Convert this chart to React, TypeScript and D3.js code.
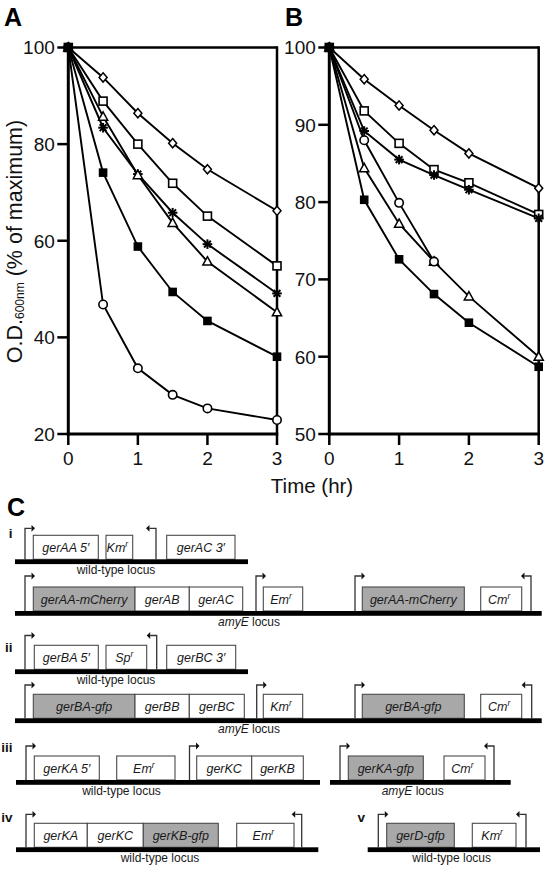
import React from 'react';
import * as d3 from 'd3';

// ---------- Data (panels A and B) ----------
const times = [0, 0.5, 1, 1.5, 2, 3];
const xTicks = [0, 1, 2, 3];
const yTicksA = [20, 40, 60, 80, 100];
const yTicksB = [50, 60, 70, 80, 90, 100];

const aDiamond = [100, 93.8, 86.4, 80.2, 74.8, 66.2];
const aOpenSquare = [100, 88.9, 80.0, 71.9, 65.1, 54.8];
const aStar = [100, 83.4, 73.8, 65.8, 59.3, 49.1];
const aTriangle = [100, 85.7, 73.6, 63.7, 55.7, 45.2];
const aCircle = [100, 46.8, 33.6, 28.1, 25.3, 22.9];
const aFilledSquare = [100, 74.1, 58.8, 49.4, 43.4, 36.0];

const bDiamond = [100, 95.9, 92.5, 89.3, 86.3, 81.8];
const bOpenSquare = [100, 91.8, 87.6, 84.2, 82.5, 78.4];
const bStar = [100, 89.2, 85.5, 83.5, 81.6, 77.9];
const bTriangle = [100, 84.4, 77.2, 72.3, 67.8, 60.0];
const bCircle: (number | null)[] = [100, 88.0, 79.9, 72.3, null, null];
const bFilledSquare = [100, 80.3, 72.6, 68.1, 64.4, 58.7];

type MarkerKind = 'diamond' | 'openSquare' | 'star' | 'triangle' | 'circle' | 'filledSquare';
type Series = { marker: MarkerKind; values: (number | null)[] };

const seriesA: Series[] = [
  { marker: 'diamond', values: aDiamond },
  { marker: 'openSquare', values: aOpenSquare },
  { marker: 'star', values: aStar },
  { marker: 'triangle', values: aTriangle },
  { marker: 'circle', values: aCircle },
  { marker: 'filledSquare', values: aFilledSquare },
];
const seriesB: Series[] = [
  { marker: 'diamond', values: bDiamond },
  { marker: 'openSquare', values: bOpenSquare },
  { marker: 'star', values: bStar },
  { marker: 'triangle', values: bTriangle },
  { marker: 'circle', values: bCircle },
  { marker: 'filledSquare', values: bFilledSquare },
];

// ---------- Data (panel C schematic) ----------
const rowLabels = ['i', 'ii', 'iii', 'iv', 'v'];
type Box = { label: string; sup?: string; x1: number; x2: number; grey?: boolean };
type Track = {
  barTop: number; bar: [number, number]; boxes: Box[];
  fwd: number[]; rev: number[]; arrowTop: number;
  locus: string; locusItalic?: string; locusX: number;
};
const tracks: Track[] = [
  { barTop: 559.3, bar: [15, 248], arrowTop: 528.3, fwd: [25], rev: [156],
    boxes: [
      { label: 'gerAA 5\u2032', x1: 33.3, x2: 98.3 },
      { label: 'Km', sup: 'r', x1: 106, x2: 132.7 },
      { label: 'gerAC 3\u2032', x1: 166.7, x2: 235 },
    ], locus: 'wild-type locus', locusX: 116 },
  { barTop: 611, bar: [15, 541.7], arrowTop: 576, fwd: [25, 256, 355], rev: [531],
    boxes: [
      { label: 'gerAA-mCherry', x1: 33.3, x2: 135, grey: true },
      { label: 'gerAB', x1: 135, x2: 189.3 },
      { label: 'gerAC', x1: 189.3, x2: 242.7 },
      { label: 'Em', sup: 'r', x1: 263.3, x2: 302.7 },
      { label: 'gerAA-mCherry', x1: 362.3, x2: 464.3, grey: true },
      { label: 'Cm', sup: 'r', x1: 480.7, x2: 521.7 },
    ], locus: ' locus', locusItalic: 'amyE', locusX: 249 },
  { barTop: 669.3, bar: [15, 248], arrowTop: 635.5, fwd: [25], rev: [156.7],
    boxes: [
      { label: 'gerBA 5\u2032', x1: 34.3, x2: 98.3 },
      { label: 'Sp', sup: 'r', x1: 106, x2: 146.7 },
      { label: 'gerBC 3\u2032', x1: 166.7, x2: 235.7 },
    ], locus: 'wild-type locus', locusX: 116 },
  { barTop: 718.3, bar: [15, 541.7], arrowTop: 685, fwd: [25, 256.7, 355], rev: [531.7],
    boxes: [
      { label: 'gerBA-gfp', x1: 33.3, x2: 135, grey: true },
      { label: 'gerBB', x1: 135, x2: 189.3 },
      { label: 'gerBC', x1: 189.3, x2: 244.3 },
      { label: 'Km', sup: 'r', x1: 263.3, x2: 302.7 },
      { label: 'gerBA-gfp', x1: 362.3, x2: 464.3, grey: true },
      { label: 'Cm', sup: 'r', x1: 480.7, x2: 521.7 },
    ], locus: ' locus', locusItalic: 'amyE', locusX: 249 },
  { barTop: 780, bar: [16, 320], arrowTop: 746, fwd: [26, 189.5], rev: [],
    boxes: [
      { label: 'gerKA 5\u2032', x1: 34.3, x2: 99.3 },
      { label: 'Em', sup: 'r', x1: 116.7, x2: 175 },
      { label: 'gerKC', x1: 196.7, x2: 251.7 },
      { label: 'gerKB', x1: 251.7, x2: 303.3 },
    ], locus: 'wild-type locus', locusX: 121.5 },
  { barTop: 780, bar: [330, 510.7], arrowTop: 746, fwd: [340], rev: [494],
    boxes: [
      { label: 'gerKA-gfp', x1: 348.3, x2: 423.3, grey: true },
      { label: 'Cm', sup: 'r', x1: 444, x2: 485 },
    ], locus: ' locus', locusItalic: 'amyE', locusX: 412.7 },
  { barTop: 847.3, bar: [16, 318.3], arrowTop: 814.3, fwd: [26], rev: [301.7],
    boxes: [
      { label: 'gerKA', x1: 34.3, x2: 87.3 },
      { label: 'gerKC', x1: 87.3, x2: 143.3 },
      { label: 'gerKB-gfp', x1: 143.3, x2: 218.3, grey: true },
      { label: 'Em', sup: 'r', x1: 236.7, x2: 294 },
    ], locus: 'wild-type locus', locusX: 160 },
  { barTop: 847.3, bar: [367.7, 540], arrowTop: 814.3, fwd: [378.3], rev: [526],
    boxes: [
      { label: 'gerD-gfp', x1: 386.7, x2: 454.3, grey: true },
      { label: 'Km', sup: 'r', x1: 472.3, x2: 516 },
    ], locus: 'wild-type locus', locusX: 451.7 },
];
const rowLabelPos: [number, number, string][] = [
  [12.5, 538, 'end'], [12.5, 652, 'end'], [12.5, 752, 'end'], [12.5, 822, 'end'], [365, 822, 'end'],
];

const FONT = "'Liberation Sans', Arial, Helvetica, sans-serif";

function Marker({ kind, x, y }: { kind: MarkerKind; x: number; y: number }) {
  switch (kind) {
    case 'diamond':
      return <path d={`M${x},${y - 4.6}L${x + 4},${y}L${x},${y + 4.6}L${x - 4},${y}Z`} fill="#fff" stroke="#000" strokeWidth={1.5} />;
    case 'openSquare':
      return <rect x={x - 4} y={y - 4} width={8} height={8} fill="#fff" stroke="#000" strokeWidth={1.6} />;
    case 'filledSquare':
      return <rect x={x - 4.3} y={y - 4.3} width={8.6} height={8.6} fill="#000" />;
    case 'circle':
      return <circle cx={x} cy={y} r={4.2} fill="#fff" stroke="#000" strokeWidth={1.6} />;
    case 'triangle':
      return <path d={`M${x},${y - 4.8}L${x + 4.6},${y + 3.6}L${x - 4.6},${y + 3.6}Z`} fill="#fff" stroke="#000" strokeWidth={1.5} />;
    case 'star': {
      const r = 4.8;
      const angles = [0, 45, 90, 135];
      return (
        <g stroke="#000" strokeWidth={2}>
          {angles.map((a) => {
            const rad = (a * Math.PI) / 180;
            const dx = r * Math.cos(rad), dy = r * Math.sin(rad);
            return <line key={a} x1={x - dx} y1={y - dy} x2={x + dx} y2={y + dy} />;
          })}
        </g>
      );
    }
  }
  return null;
}

function Panel({ xRange, yDomain, yTicks, series }: {
  xRange: [number, number]; yDomain: [number, number]; yTicks: number[]; series: Series[];
}) {
  const yTop = 47.5, yBottom = 434;
  const x = d3.scaleLinear().domain([0, 3]).range(xRange);
  const y = d3.scaleLinear().domain(yDomain).range([yBottom, yTop]);
  const line = d3.line<[number, number | null]>()
    .defined((d) => d[1] != null)
    .x((d) => x(d[0]))
    .y((d) => y(d[1] as number));
  return (
    <g>
      {/* frame */}
      <line x1={xRange[0]} y1={yTop} x2={xRange[1]} y2={yTop} stroke="#000" strokeWidth={2.5} />
      <line x1={xRange[1]} y1={yTop - 1.25} x2={xRange[1]} y2={yBottom} stroke="#000" strokeWidth={2.5} />
      {/* series lines */}
      {series.map((s, i) => (
        <path key={i} d={line(times.map((t, j) => [t, s.values[j]]) as [number, number | null][]) || ''}
          fill="none" stroke="#000" strokeWidth={1.9} />
      ))}
      {/* markers */}
      {series.map((s, i) => (
        <g key={i}>
          {times.map((t, j) => s.values[j] == null ? null : (
            <Marker key={j} kind={s.marker} x={x(t)} y={y(s.values[j] as number)} />
          ))}
        </g>
      ))}
      {/* axes */}
      <line x1={xRange[0]} y1={yTop - 1.25} x2={xRange[0]} y2={yBottom + 1.5} stroke="#000" strokeWidth={3} />
      <line x1={xRange[0] - 1.5} y1={yBottom} x2={xRange[1] + 1.25} y2={yBottom} stroke="#000" strokeWidth={3} />
      {yTicks.map((v) => (
        <g key={v}>
          <line x1={xRange[0] - 11} x2={xRange[0]} y1={y(v)} y2={y(v)} stroke="#000" strokeWidth={2.5} />
          <text x={xRange[0] - 13.5} y={y(v) + 6.8} textAnchor="end" fontSize={19} fill="#111">{v}</text>
        </g>
      ))}
      {xTicks.map((v) => (
        <g key={v}>
          <line x1={x(v)} x2={x(v)} y1={yBottom} y2={yBottom + 11} stroke="#000" strokeWidth={2.5} />
          <text x={x(v)} y={465} textAnchor="middle" fontSize={19} fill="#111">{v}</text>
        </g>
      ))}
    </g>
  );
}

function Arrow({ x, top, bottom, dir }: { x: number; top: number; bottom: number; dir: 1 | -1 }) {
  const h = 6.5 * dir;
  const tip = x + 10 * dir;
  return (
    <g>
      <path d={`M${x},${bottom}V${top}H${x + h}`} fill="none" stroke="#333" strokeWidth={1.3} />
      <path d={`M${x + h},${top - 3.4}L${tip},${top}L${x + h},${top + 3.4}Z`} fill="#111" />
    </g>
  );
}

function TrackView({ t }: { t: Track }) {
  const boxTop = t.barTop - 24;
  return (
    <g>
      {t.boxes.map((b, i) => (
        <g key={i}>
          <rect x={b.x1} y={boxTop} width={b.x2 - b.x1} height={24} fill={b.grey ? '#a8a8a8' : '#fff'} stroke="#4a4a4a" strokeWidth={1.1} />
          <text x={(b.x1 + b.x2) / 2 - (b.sup ? 2 : 0)} y={boxTop + 16.5} textAnchor="middle" fontSize={12.5} fontStyle="italic" fill="#1a1a1a">
            {b.label}
            {b.sup ? <tspan fontSize={8.5} dy={-5}>{b.sup}</tspan> : null}
          </text>
        </g>
      ))}
      {t.fwd.map((x, i) => <Arrow key={'f' + i} x={x} top={t.arrowTop} bottom={t.barTop} dir={1} />)}
      {t.rev.map((x, i) => <Arrow key={'r' + i} x={x} top={t.arrowTop} bottom={t.barTop} dir={-1} />)}
      <rect x={t.bar[0]} y={t.barTop} width={t.bar[1] - t.bar[0]} height={4.8} fill="#000" />
      <text x={t.locusX} y={t.barTop + 14.5} textAnchor="middle" fontSize={12} fill="#1a1a1a">
        {t.locusItalic ? <tspan fontStyle="italic">{t.locusItalic}</tspan> : null}
        {t.locus}
      </text>
    </g>
  );
}

export default function App() {
  return (
    <svg width={548} height={872} viewBox="0 0 548 872"
      style={{ position: 'absolute', left: 0, top: 0, background: '#fff' }}
      fontFamily={FONT}>
      <rect x={0} y={0} width={548} height={872} fill="#fff" />
      {/* Panel labels */}
      <text x={4} y={25.5} fontSize={25} fontWeight="bold">A</text>
      <text x={285} y={25.5} fontSize={25} fontWeight="bold">B</text>
      <text x={7} y={515.5} fontSize={25} fontWeight="bold">C</text>

      <Panel xRange={[68.3, 277]} yDomain={[20, 100]} yTicks={yTicksA} series={seriesA} />
      <Panel xRange={[329.3, 538.7]} yDomain={[50, 100]} yTicks={yTicksB} series={seriesB} />

      {/* Y axis title */}
      <text transform="translate(21.5,241.5) rotate(-90)" textAnchor="middle" fontSize={21.5} fill="#111">
        O.D.<tspan fontSize={12} dy={2}>600nm</tspan><tspan dy={-2}> (% of maximum)</tspan>
      </text>
      {/* X axis title */}
      <text x={312} y={492.5} textAnchor="middle" fontSize={20.5} fill="#111">Time (hr)</text>

      {/* Panel C */}
      {rowLabels.map((r, i) => (
        <text key={r} x={rowLabelPos[i][0]} y={rowLabelPos[i][1]} textAnchor={rowLabelPos[i][2] as any}
          fontSize={13.5} fontWeight="bold" fill="#111">{r}</text>
      ))}
      {tracks.map((t, i) => <TrackView key={i} t={t} />)}
    </svg>
  );
}
